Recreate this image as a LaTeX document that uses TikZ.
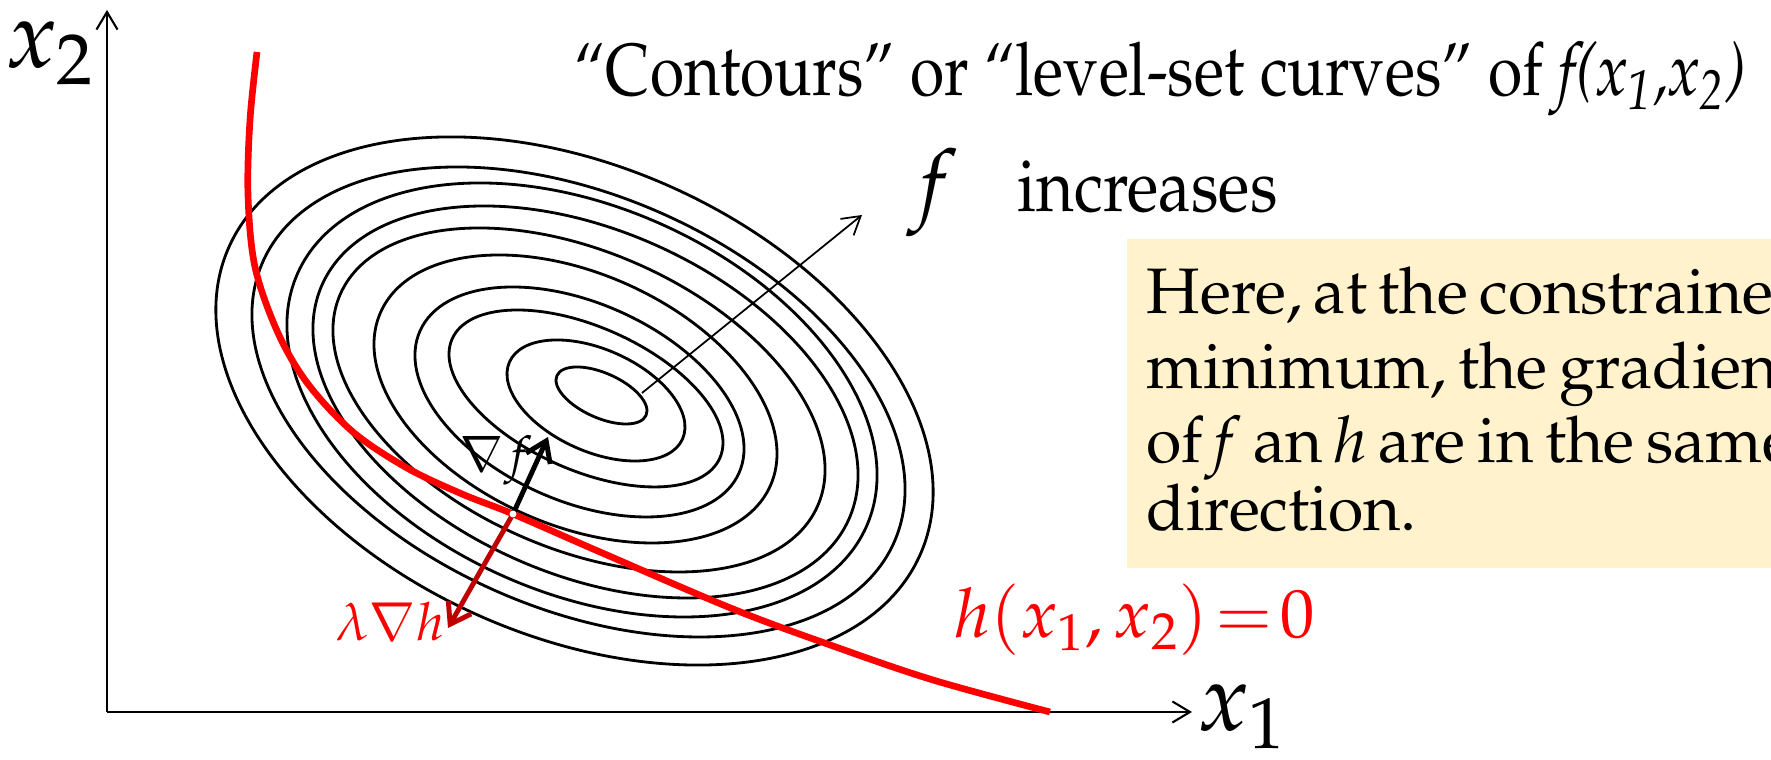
\documentclass[tikz,border=0pt]{standalone}
\usepackage[T1]{fontenc}
\usepackage{mathpazo}
\usepackage{tikz}
\usetikzlibrary{arrows.meta}
\definecolor{boxfill}{HTML}{FFF2CC}
\definecolor{gradred}{HTML}{C00000}
\def\contour(#1,#2)(#3:#4){\draw[contourline, rotate around={-24:(#1,#2)}] (#1,#2) ellipse (#3 and #4);}
\tikzset{
	contourline/.style={line width=0.8pt},
	axisline/.style={line width=0.6pt, -{Straight Barb[length=5pt,width=6pt]}},
	hcurve/.style={line width=1.9pt, red},
	gradarrow/.style={line width=1.4pt, -{Straight Barb[length=5.5pt,width=7.5pt]}},
}

\begin{document}
\begin{tikzpicture}
			%%%%% START %%%%%
			\useasboundingbox (0,0) rectangle (17.71,7.60);
			
			\coordinate (O) at (1.07,0.48);
			\coordinate (Xtip) at (11.92,0.48);
			\coordinate (Ytip) at (1.07,7.50);
			\draw[axisline] (O) -- (Ytip);
			\draw[axisline] (O) -- (Xtip);
			\node (xtwo) at (0.50,7.07) {\fontsize{27}{30}\selectfont $x_{2}$};
			\node (xone) at (12.42,0.43) {\fontsize{27}{30}\selectfont $x_{1}$};
			
			\contour(6.015,3.645)(0.488:0.224)
			\contour(5.96,3.595)(0.947:0.511)
			\contour(5.86,3.615)(1.465:0.716)
			\contour(5.795,3.58)(1.746:0.990)
			\contour(5.755,3.61)(2.133:1.258)
			\contour(5.79,3.60)(2.611:1.481)
			\contour(5.855,3.58)(2.883:1.719)
			\contour(5.82,3.60)(3.113:1.929)
			\contour(5.785,3.58)(3.454:2.062)
			\contour(5.745,3.59)(3.783:2.349)
			
			\coordinate (inner) at (6.42,3.67);
			\coordinate (outer) at (8.62,5.45);
			\draw[line width=0.5pt, -{Straight Barb[length=5pt,width=6pt]}] (inner) -- (outer);
			\node (f) at (9.33,5.67) {\fontsize{25}{28}\selectfont $f$};
			\node[anchor=base west, inner sep=0] (incr) at (10.17,5.48) {\fontsize{21}{25}\selectfont\scalebox{0.88}[1]{increases}};
			\node[anchor=base west, inner sep=0] (title) at (5.74,6.64) {\fontsize{21}{25}\selectfont\scalebox{0.845}[1]{``Contours'' or ``level-set curves'' of \textit{f(x\textsubscript{1},x\textsubscript{2})}}};
			
			\draw[hcurve] plot[smooth, tension=0.55] coordinates {(2.57,7.08) (2.50,6.40) (2.48,5.65) (2.55,4.93) (2.78,4.27) (3.08,3.76) (3.53,3.28) (4.07,2.92) (4.62,2.66) (5.13,2.46) (6.00,2.08) (7.33,1.51) (8.33,1.14) (9.33,0.80) (10.50,0.48)};
			\node[red, anchor=base west, inner sep=0] (hzero) at (9.54,1.22) {\fontsize{19.5}{24}\selectfont $h(x_{1},x_{2})\mskip2mu{=}\mskip2mu0$};
			
			\coordinate (P) at (5.13,2.46);
			\coordinate (gf) at (5.48,3.23);
			\coordinate (gh) at (4.48,1.32);
			\draw[gradarrow] (P) -- (gf);
			\draw[gradarrow, gradred] (P) -- (gh);
			\fill[white] (P) circle (0.035);
			\node (gflabel) at (4.96,3.00) {\fontsize{14}{16}\selectfont $\nabla f$};
			\node[red] (ghlabel) at (3.90,1.38) {\fontsize{15}{17}\selectfont $\lambda\nabla h$};
			
			\fill[boxfill] (11.27,1.92) rectangle (17.80,5.21);
			\node[anchor=base west, inner sep=0, text width=8cm, align=left] (note) at (11.46,4.46) {\fontsize{18.3}{21.2}\selectfont Here, at the constrained\\ minimum, the gradients\\ of \textit{f} an \textit{h} are in the same\\ direction.};
			%%%%% END %%%%%
		\end{tikzpicture}
\end{document}
